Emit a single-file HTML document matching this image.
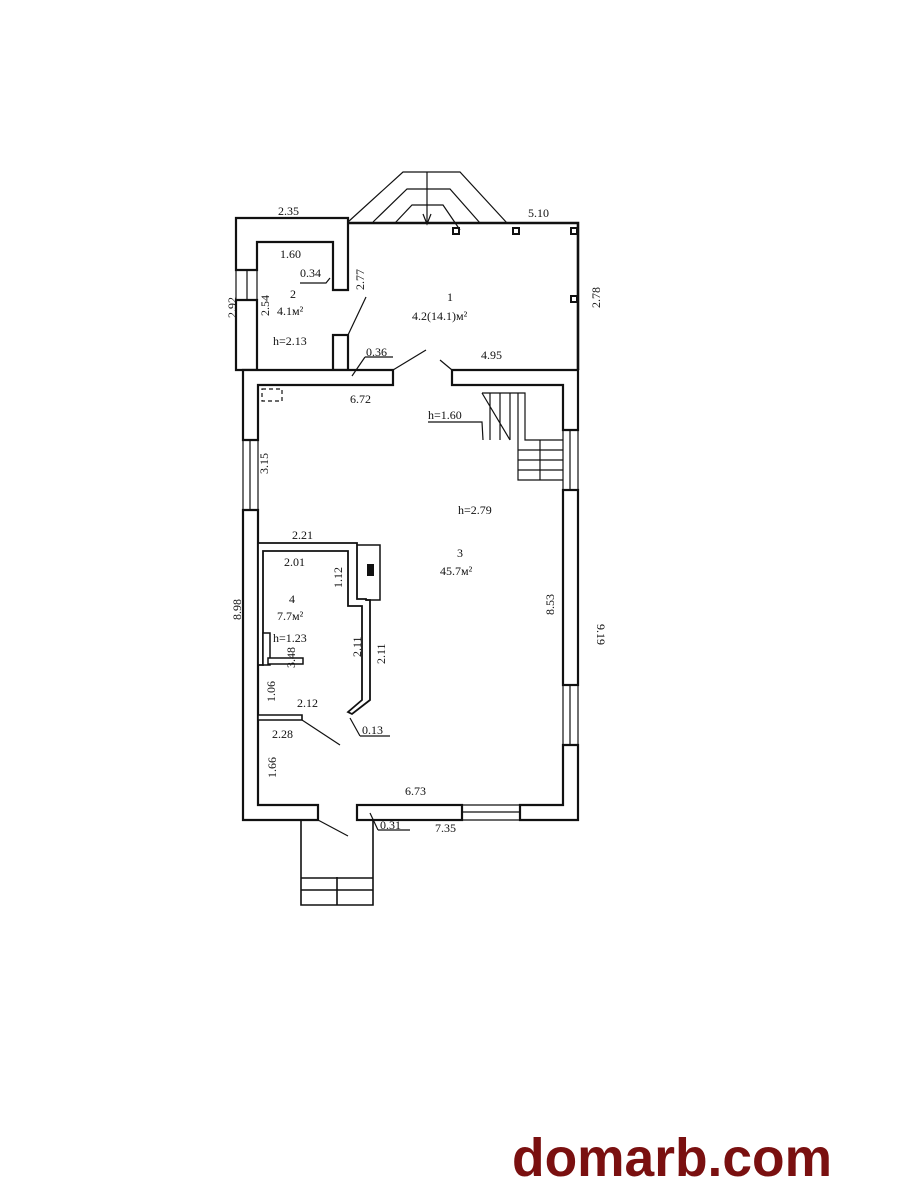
<!DOCTYPE html>
<html><head><meta charset="utf-8"><style>
html,body{margin:0;padding:0;background:#fff;}
svg{display:block}
text{font-family:"Liberation Serif",serif;fill:#111;}
</style></head><body>
<svg width="900" height="1200" viewBox="0 0 900 1200" xmlns="http://www.w3.org/2000/svg">
<g fill="#fff" stroke="#111" stroke-width="2.2">
<path d="M236 218 H348 V290 H333 V242 H257 V270 H236 Z"/>
<path d="M236 300 H257 V370 H236 Z"/>
<rect x="333" y="335" width="15" height="35"/>
<path d="M348 223 H578 V370" fill="none" stroke-width="2.6"/>
<path d="M243 370 H393 V385 H258 V440 H243 Z"/>
<path d="M452 370 H578 V430 H563 V385 H452 Z"/>
<path d="M243 510 H258 V805 H318 V820 H243 Z"/>
<rect x="563" y="490" width="15" height="195"/>
<path d="M563 745 H578 V820 H520 V805 H563 Z"/>
<rect x="357" y="805" width="105" height="15"/>
</g>
<g stroke="#111" stroke-width="1.2" fill="none">
<path d="M243 440 V510 M258 440 V510 M250 440 V510"/>
<path d="M236 270 V300 M257 270 V300 M247 270 V300"/>
<path d="M563 430 V490 M578 430 V490 M570 430 V490"/>
<path d="M563 685 V745 M578 685 V745 M570 685 V745"/>
<path d="M462 805 H520 M462 820 H520 M462 812 H520"/>
<path d="M348 222 L403 172 H460 L507 223"/>
<path d="M373 222 L407 189 H450 L480 223"/>
<path d="M395 223 L412 205 H443 L460 230"/>
<path d="M427 172 V222"/>
<path d="M423 214 L427 224 L431 214"/>
<path d="M348 335 L366 297"/>
<path d="M393 370 L426 350"/>
<path d="M452 370 L440 360"/>
<path d="M318 820 L348 836"/>
<path d="M302 720 L340 745"/>
<path d="M301 820 V905 H373 V820 M301 878 H373 M301 890 H373 M337 877 V905" stroke-width="1.6"/>
<path d="M482 393 H525 V440 H563" />
<path d="M490 393 V440 M500 393 V440 M510 393 V440 M518 393 V440 M482 393 L510 440"/>
<path d="M518 440 V480 H563 M518 450 H563 M518 460 H563 M518 470 H563 M540 440 V480"/>
<path d="M428 422 H482 L483 440"/>
<path d="M300 283 H326 L330 278"/>
<path d="M365 357 H393 M352 376 L365 357"/>
<path d="M378 830 H410 M370 813 L378 830"/>
<path d="M360 736 H390 M350 718 L360 736"/>
<path d="M262 389 H282 V401 H262 Z" stroke-dasharray="4 3"/>
</g>
<g fill="#fff" stroke="#111" stroke-width="2">
<rect x="453" y="228" width="6" height="6"/><rect x="513" y="228" width="6" height="6"/>
<rect x="571" y="228" width="6" height="6"/><rect x="571" y="296" width="6" height="6"/>
<path d="M258 543 H357 V599 H366 V600 H370 V700 L352 714 L348 712 L362 700 V606 H348 V551 H263 V665 H258 Z" stroke-width="1.8"/>
<path d="M258 715 H302 V720 H258 Z" stroke-width="1.6"/>
<path d="M263 633 H270 V665 H263 Z" stroke-width="1.5"/>
<path d="M268 658 H303 V664 H268 Z" stroke-width="1.5"/>
<path d="M357 545 H380 V600 H366" fill="none" stroke-width="1.5"/>
<rect x="368" y="565" width="5" height="10" fill="#111"/>
</g>
<g font-size="12">
<text x="278" y="215">2.35</text>
<text x="528" y="217">5.10</text>
<text x="280" y="258">1.60</text>
<text x="300" y="277">0.34</text>
<text x="290" y="298">2</text>
<text x="277" y="315">4.1м²</text>
<text x="273" y="345">h=2.13</text>
<text x="447" y="301">1</text>
<text x="412" y="320">4.2(14.1)м²</text>
<text x="366" y="356">0.36</text>
<text x="481" y="359">4.95</text>
<text x="350" y="403">6.72</text>
<text x="428" y="419">h=1.60</text>
<text x="458" y="514">h=2.79</text>
<text x="457" y="557">3</text>
<text x="440" y="575">45.7м²</text>
<text x="292" y="539">2.21</text>
<text x="284" y="566">2.01</text>
<text x="289" y="603">4</text>
<text x="277" y="620">7.7м²</text>
<text x="273" y="642">h=1.23</text>
<text x="297" y="707">2.12</text>
<text x="272" y="738">2.28</text>
<text x="362" y="734">0.13</text>
<text x="405" y="795">6.73</text>
<text x="380" y="829">0.31</text>
<text x="435" y="832">7.35</text>
</g>
<g font-size="12">
<text transform="translate(236,318) rotate(-90)">2.92</text>
<text transform="translate(269,316) rotate(-90)">2.54</text>
<text transform="translate(364,290) rotate(-90)">2.77</text>
<text transform="translate(600,308) rotate(-90)">2.78</text>
<text transform="translate(268,474) rotate(-90)">3.15</text>
<text transform="translate(241,620) rotate(-90)">8.98</text>
<text transform="translate(342,588) rotate(-90)">1.12</text>
<text transform="translate(361,657) rotate(-90)">2.11</text>
<text transform="translate(385,664) rotate(-90)">2.11</text>
<text transform="translate(295,668) rotate(-90)">3.48</text>
<text transform="translate(275,702) rotate(-90)">1.06</text>
<text transform="translate(276,778) rotate(-90)">1.66</text>
<text transform="translate(554,615) rotate(-90)">8.53</text>
<text transform="translate(597,624) rotate(90)">9.19</text>
</g>
<text x="512" y="1176" textLength="320" lengthAdjust="spacingAndGlyphs" style="font-family:'Liberation Sans',sans-serif;font-weight:bold;font-size:54px;fill:#7a1010">domarb.com</text>
</svg>
</body></html>
